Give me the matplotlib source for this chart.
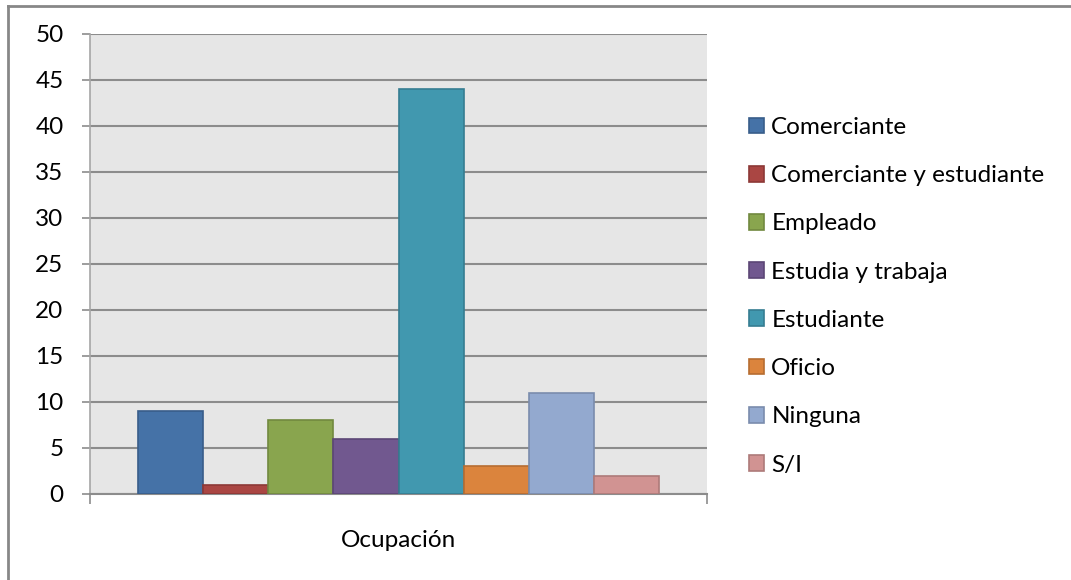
import matplotlib.pyplot as plt
from matplotlib.lines import Line2D

plt.rcParams['font.family'] = ['Lato', 'DejaVu Sans']

# data
category = 'Ocupación'
series = ['Comerciante', 'Comerciante y estudiante', 'Empleado', 'Estudia y trabaja',
          'Estudiante', 'Oficio', 'Ninguna', 'S/I']
values = [9, 1, 8, 6, 44, 3, 11, 2]
colors = ['#4572A7', '#AA4643', '#89A54E', '#71588F', '#4198AF', '#DB843D', '#93A9CF', '#D19392']
edges = ['#385D8A', '#8C3836', '#71893F', '#5C4776', '#357D91', '#B66D31', '#7A8CAD', '#AD7A79']
yticks = [0, 5, 10, 15, 20, 25, 30, 35, 40, 45, 50]

W, H = 1071, 580
fig = plt.figure(figsize=(W / 100, H / 100), dpi=100)
ax = fig.add_axes([90 / W, 1 - 494 / H, 617 / W, 460 / H])
ax.set_facecolor('#E6E6E6')

# outer chart border (only left and top visible)
fig.add_artist(Line2D([8 / W, 8 / W], [0, 1 - 6 / H], color='#878787', lw=2, transform=fig.transFigure))
fig.add_artist(Line2D([8 / W, 1], [1 - 6 / H, 1 - 6 / H], color='#878787', lw=2, transform=fig.transFigure))

n = len(values)
bw = (521 / 617) / n
start = -bw * n / 2
for i in range(n):
    ax.bar(start + bw * (i + 0.5), values[i], width=bw, color=colors[i],
           edgecolor=edges[i], linewidth=1.2, label=series[i], zorder=3)

ax.set_xlim(-0.5, 0.5)
ax.set_ylim(0, 50)
ax.set_yticks(yticks)
ax.yaxis.grid(True, color='#8C8C8C', linewidth=1.5, zorder=0)
ax.set_axisbelow(True)

for s in ['top', 'right']:
    ax.spines[s].set_visible(False)
ax.spines['left'].set_color('#A6A6A6')
ax.spines['left'].set_linewidth(1.2)
ax.spines['bottom'].set_color('#8C8C8C')
ax.spines['bottom'].set_linewidth(1.5)

ax.tick_params(axis='y', length=6, width=1.2, color='#8C8C8C', labelsize=17.5, pad=13)
ax.set_xticks([-0.5, 0.5])
ax.set_xticklabels(['', ''])
ax.tick_params(axis='x', which='major', length=7, width=1.2, color='#8C8C8C')
ax.set_xticks([0], minor=True)
ax.set_xticklabels([category], minor=True)
ax.tick_params(axis='x', which='minor', length=0, labelsize=17.5, pad=26)

leg = ax.legend(loc='upper left', bbox_to_anchor=(749 / W, 1 - 117 / H),
                bbox_transform=fig.transFigure, frameon=False, fontsize=17.5,
                handlelength=0.62, handleheight=0.62, handletextpad=0.3,
                labelspacing=1.12, borderaxespad=0, borderpad=0)
for h in leg.legend_handles:
    h.set_linewidth(1.2)

fig.savefig('out.png', dpi=100)
